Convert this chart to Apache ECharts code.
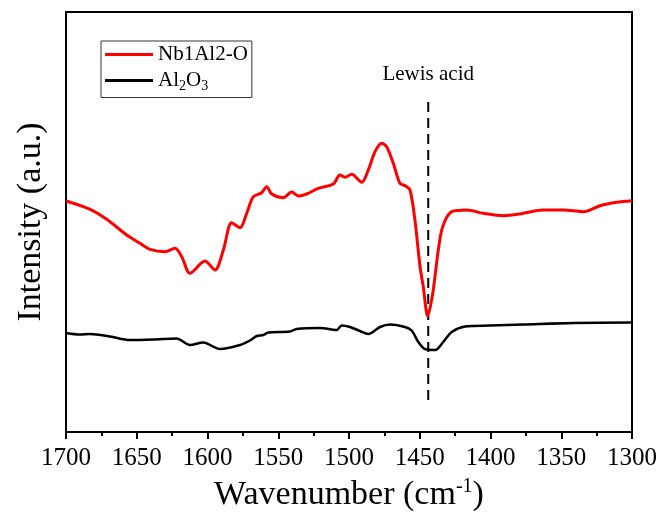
<!DOCTYPE html>
<html><head><meta charset="utf-8">
<script src="https://cdn.jsdelivr.net/npm/echarts@6/dist/echarts.min.js"></script>
<style>html,body{margin:0;padding:0;background:#fff}#c{width:662px;height:512px}</style>
</head><body><div id="c"></div>
<script>
const xTicks = [1700,1650,1600,1550,1500,1450,1400,1350,1300];
const redWn = [1700,1683,1671.2,1657.1,1647.7,1640.6,1630,1623,1618.2,1612.4,1601.8,1594.7,1588.8,1582.9,1577,1572.3,1567.6,1561.7,1558.2,1554.6,1546.4,1540.5,1535.8,1529.9,1521.7,1511.1,1506.4,1502.8,1498.1,1491,1486.4,1481.6,1476.9,1473.4,1468.7,1464,1460,1456.9,1453.4,1449.8,1447.5,1444.4,1440.8,1436.9,1433.8,1427.4,1416.8,1405.1,1391,1379.2,1362.7,1348.6,1334.4,1322.6,1310.8,1300];
const redI = [2.31,2.227,2.127,1.97,1.887,1.827,1.803,1.837,1.753,1.587,1.71,1.62,1.82,2.093,2.043,2.187,2.353,2.393,2.453,2.38,2.343,2.4,2.36,2.38,2.437,2.48,2.57,2.547,2.577,2.497,2.62,2.803,2.887,2.853,2.687,2.487,2.46,2.42,2.12,1.653,1.453,1.16,1.387,1.82,2.053,2.203,2.22,2.187,2.163,2.18,2.22,2.22,2.203,2.263,2.297,2.313];
const blkWn = [1700,1690.1,1683,1668.9,1654.8,1638.3,1621.8,1612.4,1603,1591.2,1577,1570,1565.2,1560.6,1557,1541.7,1537,1520.5,1508.7,1505.2,1499.3,1492.2,1486.4,1478.1,1471,1460.4,1455.7,1451,1446.3,1439.2,1433.4,1427.4,1418,1400.4,1376.8,1341.5,1300];
const blkI = [0.99,0.975,0.98,0.955,0.92,0.925,0.935,0.87,0.895,0.83,0.87,0.915,0.96,0.97,0.995,1.005,1.03,1.04,1.02,1.065,1.05,1.01,0.98,1.05,1.075,1.05,1.015,0.9,0.83,0.82,0.9,1.0,1.055,1.065,1.075,1.09,1.095];
const lewisWn = [1444,1444];
const lewisI = [0.32,3.33];
const names = ['Nb1Al2-O','Al2O3'];

const zip = (a,b)=>a.map((v,i)=>[v,b[i]]);
const serif = '"Liberation Serif","Times New Roman",serif';
const chart = echarts.init(document.getElementById('c'));
chart.setOption({
  animation:false,
  backgroundColor:'#fff',
  grid:{left:66,right:30,top:12,bottom:80,show:true,borderColor:'#000',borderWidth:2,containLabel:false,outerBoundsMode:'none'},
  legend:{
    left:101,top:41,orient:'vertical',data:names,
    borderColor:'#333',borderWidth:1,padding:[3,4,4,4],itemGap:5,
    itemWidth:48,itemHeight:3,icon:'rect',
    textStyle:{fontFamily:serif,fontSize:21,color:'#000',
      rich:{a:{fontFamily:serif,fontSize:21,color:'#000'},s:{fontFamily:serif,fontSize:14,color:'#000',padding:[12,0,0,0]}}},
    formatter:n=> n==='Al2O3' ? '{a|Al}{s|2}{a|O}{s|3}' : n
  },
  xAxis:{
    type:'value',inverse:true,min:1300,max:1700,interval:50,
    name:'{a|Wavenumber (cm}{s|-1}{a|)}',nameLocation:'middle',nameGap:45,
    nameTextStyle:{fontFamily:serif,fontSize:34,color:'#000',
      rich:{a:{fontFamily:serif,fontSize:34,color:'#000'},s:{fontFamily:serif,fontSize:20,color:'#000',padding:[0,0,16,0]}}},
    axisLine:{lineStyle:{color:'#000',width:2}},
    axisTick:{show:true,inside:false,length:7,lineStyle:{color:'#000',width:2}},
    minorTick:{show:true,splitNumber:2,length:4,lineStyle:{color:'#000',width:2}},
    axisLabel:{fontFamily:serif,fontSize:25,color:'#000',margin:14,
      formatter:v=> xTicks.includes(v)? String(v):''},
    splitLine:{show:false}
  },
  yAxis:{
    type:'value',min:0,max:4.2,
    name:'Intensity (a.u.)',nameLocation:'middle',nameGap:18,
    nameTextStyle:{fontFamily:serif,fontSize:34,color:'#000'},
    axisLine:{show:true,lineStyle:{color:'#000',width:2}},
    axisTick:{show:false},axisLabel:{show:false},splitLine:{show:false}
  },
  series:[
    {name:names[0],type:'line',data:zip(redWn,redI),smooth:0.3,showSymbol:false,
      lineStyle:{color:'#ff0000',width:3},itemStyle:{color:'#ff0000'},z:3},
    {name:names[1],type:'line',data:zip(blkWn,blkI),smooth:0.3,showSymbol:false,
      lineStyle:{color:'#000',width:2.5},itemStyle:{color:'#000'},z:2},
    {name:'lewis',type:'line',data:zip(lewisWn,lewisI),showSymbol:false,symbol:'none',
      lineStyle:{color:'#000',width:2,type:[10,6]},z:1,
      markPoint:{symbol:'circle',symbolSize:0,
        data:[{coord:[lewisWn[1],lewisI[1]],value:'Lewis acid'}],
        label:{show:true,position:'top',distance:14,formatter:'Lewis acid',fontFamily:serif,fontSize:21,color:'#000'}}}
  ]
});
</script></body></html>
